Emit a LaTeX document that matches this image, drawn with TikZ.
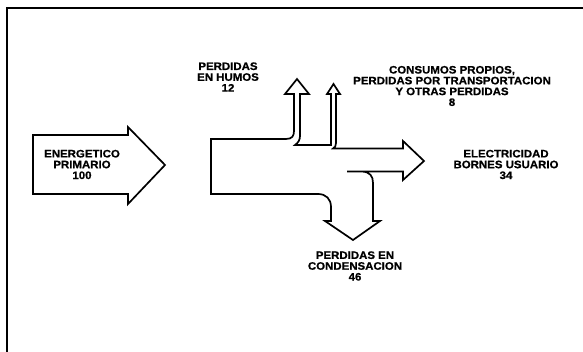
\documentclass[tikz,border=0pt]{standalone}
\usepackage{fontspec}
\setmainfont{Liberation Sans}
\newfontfamily\lblfont[BoldFeatures={FakeBold=0.8,FakeStretch=1.06}]{Liberation Sans}
\begin{document}
\begin{tikzpicture}[x=1pt,y=-1pt,
  outline/.style={draw=black,line width=1.7pt,line join=miter},
  lbl/.style={font=\lblfont\fontsize{10.8}{10.8}\selectfont\bfseries,align=center,inner sep=0pt,text=black}]
\fill[white] (0,0) rectangle (583,352);
\useasboundingbox (0,0) rectangle (583,352);
% frame
\draw[line width=1.3pt] (7,352) -- (7,8) -- (583,8);
% input arrow
\draw[outline] (33,135) -- (128,135) -- (128,127) -- (165,165) -- (128,204) -- (128,194) -- (33,194) -- cycle;
% main flow outline
\draw[outline] (347,171.5) -- (403,171.5) -- (403,180) -- (424,161) -- (403,141) -- (403,148.5)
  -- (333,148.5) .. controls (335,147.5) and (336,146) .. (336,143) -- (336,94)
  -- (340,94) -- (333.5,84) -- (327,94) -- (331,94) -- (331,145)
  -- (295,145) .. controls (298,143) and (300,140) .. (300,136) -- (300,94)
  -- (309,94) -- (297,79) -- (285,94) -- (294,94)
  -- (294,131) .. controls (294,136) and (292,139) .. (286,139) -- (211,139)
  -- (211,194) -- (318,194) .. controls (326,194) and (331,199) .. (331,207) -- (331,221)
  -- (325,221) -- (353,240) -- (380,221) -- (373,221) -- (373,183)
  .. controls (373,176) and (370,172) .. (362,171.5);
% labels
\node[lbl] (ep) at (82,164.5) {ENERGETICO\\PRIMARIO\\100};
\node[lbl] (ph) at (228,77) {PERDIDAS\\EN HUMOS\\12};
\node[lbl] (cp) at (452,86) {CONSUMOS PROPIOS,\\PERDIDAS POR TRANSPORTACION\\Y OTRAS PERDIDAS\\8};
\node[lbl] (el) at (506,164.5) {ELECTRICIDAD\\BORNES USUARIO\\34};
\node[lbl] (pc) at (355,266) {PERDIDAS EN\\CONDENSACION\\46};
\end{tikzpicture}
\end{document}
